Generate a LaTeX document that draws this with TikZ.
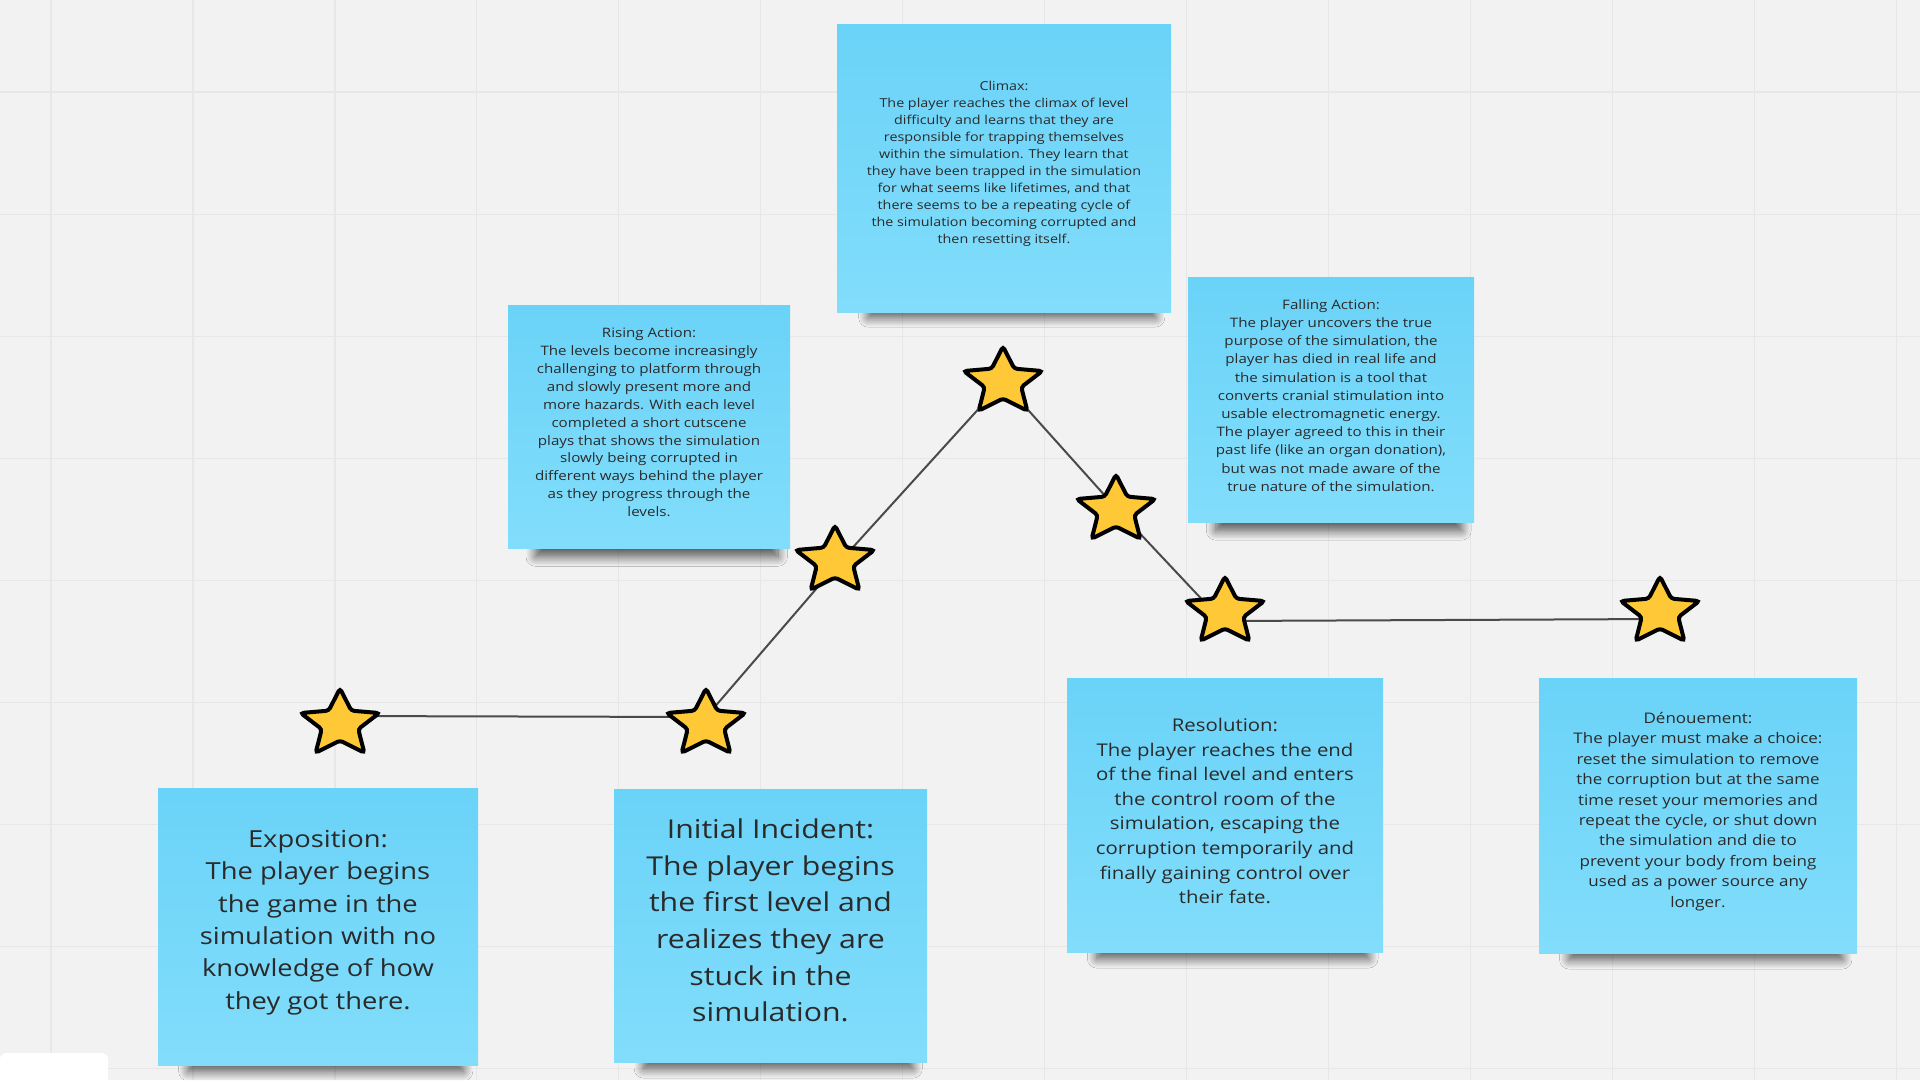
\documentclass[tikz,border=0pt]{standalone}
\usepackage{fontspec}
\setmainfont{Open Sans}[FakeStretch=1.164]
\usetikzlibrary{shapes.geometric,shadows.blur}
\definecolor{bgc}{HTML}{F2F2F2}
\definecolor{gridc}{HTML}{E7E7E7}
\definecolor{notetop}{HTML}{6AD3F8}
\definecolor{notebot}{HTML}{82DDFB}
\definecolor{textc}{HTML}{2A2A2A}
\definecolor{starfill}{HTML}{FFC837}
\definecolor{linec}{HTML}{4A4A4A}
\tikzset{
  gridline/.style={draw=gridc, line width=1.2pt},
  notebox/.style={rectangle, top color=notetop, bottom color=notebot, draw=none,
    inner sep=0pt,
    blur shadow={shadow xshift=9pt, shadow yshift=-30pt, shadow scale=0.86,
      shadow blur radius=11pt, shadow blur steps=12, shadow opacity=65}},
  notetext/.style={align=center, text=textc, inner sep=0pt},
  starnode/.style={star, star points=5, star point ratio=2.15, minimum size=71pt,
    inner sep=0pt, fill=starfill, draw=black, line width=4pt, rounded corners=3pt,
    xscale=1.164},
  conn/.style={draw=linec, line width=2pt},
}
\begin{document}
\begin{tikzpicture}[x=1pt,y=-1pt]
\useasboundingbox (0,0) rectangle (1920,1080);
\fill[bgc] (0,0) rectangle (1920,1080);
\foreach \i in {0,...,13} \draw[gridline] ({51+141.95*\i},0) -- ({51+141.95*\i},1080);
\foreach \j in {0,...,8} \draw[gridline] (0,{92+122.1*\j}) -- (1920,{92+122.1*\j});
\fill[white, rounded corners=6pt] (0,1053) rectangle (108,1095);

% notes
\node[notebox, minimum width=334pt, minimum height=288pt] (climax) at (1004,168) {};
\node[notetext, font=\fontsize{12.3}{17}\selectfont] (climax-t) at ([yshift=4pt]climax.center)
 {Climax:\\The player reaches the climax of level\\difficulty and learns that they are\\responsible for trapping themselves\\within the simulation. They learn that\\they have been trapped in the simulation\\for what seems like lifetimes, and that\\there seems to be a repeating cycle of\\the simulation becoming corrupted and\\then resetting itself.};
\node[notebox, minimum width=282pt, minimum height=243pt] (rising) at (649,426.5) {};
\node[notetext, font=\fontsize{13}{17.9}\selectfont] (rising-t) at ([yshift=4pt]rising.center)
 {Rising Action:\\The levels become increasingly\\challenging to platform through\\and slowly present more and\\more hazards. With each level\\completed a short cutscene\\plays that shows the simulation\\slowly being corrupted in\\different ways behind the player\\as they progress through the\\levels.};
\node[notebox, minimum width=286pt, minimum height=245pt] (falling) at (1331,399.5) {};
\node[notetext, font=\fontsize{13}{18.2}\selectfont] (falling-t) at ([yshift=4pt]falling.center)
 {Falling Action:\\The player uncovers the true\\purpose of the simulation, the\\player has died in real life and\\the simulation is a tool that\\converts cranial stimulation into\\usable electromagnetic energy.\\The player agreed to this in their\\past life (like an organ donation),\\but was not made aware of the\\true nature of the simulation.};
\node[notebox, minimum width=316pt, minimum height=274pt] (resolution) at (1225,815) {};
\node[notetext, font=\fontsize{17.5}{24.6}\selectfont] (resolution-t) at ([yshift=4pt]resolution.center)
 {Resolution:\\The player reaches the end\\of the final level and enters\\the control room of the\\simulation, escaping the\\corruption temporarily and\\finally gaining control over\\their fate.};
\node[notebox, minimum width=318pt, minimum height=275pt] (denouement) at (1698,815.5) {};
\node[notetext, font=\fontsize{14.6}{20.4}\selectfont] (denouement-t) at ([yshift=4pt]denouement.center)
 {Dénouement:\\The player must make a choice:\\reset the simulation to remove\\the corruption but at the same\\time reset your memories and\\repeat the cycle, or shut down\\the simulation and die to\\prevent your body from being\\used as a power source any\\longer.};
\node[notebox, minimum width=320pt, minimum height=277pt] (exposition) at (318,926.5) {};
\node[notetext, font=\fontsize{23.5}{32.3}\selectfont] (exposition-t) at ([yshift=4pt]exposition.center)
 {Exposition:\\The player begins\\the game in the\\simulation with no\\knowledge of how\\they got there.};
\node[notebox, minimum width=313pt, minimum height=273pt] (initial) at (770.5,925.5) {};
\node[notetext, font=\fontsize{26}{36.7}\selectfont] (initial-t) at ([yshift=5pt]initial.center)
 {Initial Incident:\\The player begins\\the first level and\\realizes they are\\stuck in the\\simulation.};

% star positions
\path (340,724) coordinate (c1) (706,724) coordinate (c2) (835,561) coordinate (c3)
      (1003,382) coordinate (c4) (1116,510) coordinate (c5) (1225,612) coordinate (c6)
      (1660,612) coordinate (c7);
% connectors
\draw[conn] ([yshift=8pt]c1) -- ([yshift=7pt]c2);
\draw[conn] ([yshift=7pt]c2) -- ([yshift=-6pt]c3);
\draw[conn] ([yshift=-6pt]c3) -- (c4);
\draw[conn] (c4) -- ([yshift=2pt]c5);
\draw[conn] ([yshift=2pt]c5) -- ([yshift=-12pt]c6);
\draw[conn] ([yshift=-9pt]c6) -- ([yshift=-7pt]c7);
% stars
\foreach \k in {1,...,7} \node[starnode] (s\k) at (c\k) {};
\end{tikzpicture}
\end{document}
